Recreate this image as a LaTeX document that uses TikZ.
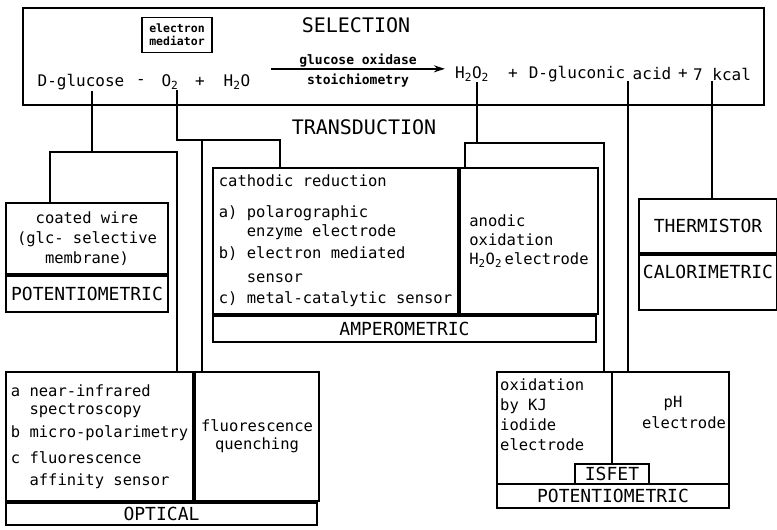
\documentclass[tikz,border=0pt]{standalone}
\usepackage{fontspec}
\newfontfamily\stencil{DejaVu Sans Mono}
\usetikzlibrary{arrows.meta}

\begin{document}
\begin{tikzpicture}[x=1pt,y=-1pt,
    cell/.style={draw, line width=2pt, inner sep=2pt, anchor=north west, align=center,
      font=\stencil\fontsize{15.5}{20}\selectfont},
    caps/.style={font=\stencil\fontsize{18}{20}\selectfont},
    title/.style={inner sep=1pt, font=\stencil\fontsize{20}{22}\selectfont},
    word/.style={inner sep=1pt, font=\stencil\fontsize{16}{18}\selectfont},
    txt/.style={inner sep=1pt, align=left, font=\stencil\fontsize{15.5}{20}\selectfont},
    small/.style={inner sep=1pt, font=\stencil\bfseries\fontsize{13}{15}\selectfont},
    link/.style={line width=1.6pt}]
  \useasboundingbox (0,0) rectangle (777,530);

  % selection
  \node[draw, line width=2.2pt, anchor=north west, inner sep=0,
    minimum width=741pt, minimum height=97pt] (sel) at (22,7) {};
  \node[title] (selt) at (356,25) {SELECTION};
  \node[draw, line width=1.2pt, inner sep=2pt, minimum width=70pt, minimum height=35pt,
    align=center, font=\stencil\bfseries\fontsize{11.5}{13}\selectfont] (med) at (177,35) {electron\\mediator};
  \node[word] (glc) at (81,82) {D-glucose};
  \node[word] (dash) at (141,82) {-};
  \node[word] (oxy) at (170,82) {O\textsubscript{2}};
  \node[word] (plusa) at (200,82) {+};
  \node[word] (water) at (237,82) {H\textsubscript{2}O};
  \node[small] (ox) at (358,61) {glucose oxidase};
  \node[small] (st) at (358,81) {stoichiometry};
  \node[word] (hper) at (472,74) {H\textsubscript{2}O\textsubscript{2}};
  \node[word] (plusb) at (513,74) {+};
  \node[word] (gluc) at (577,74) {D-gluconic};
  \node[word] (acid) at (652,74) {acid};
  \node[word] (plusc) at (683,74) {+};
  \node[word] (kcal) at (722,74) {7 kcal};
  \draw[link, -{Stealth[length=11pt,width=7pt]}] ([xshift=20pt]ox.south -| water.east) -- ([xshift=-9pt]ox.south -| hper.west);

  % transduction
  \node[title] (trans) at (364,127) {TRANSDUCTION};

  \node[cell, minimum width=162pt, minimum height=71pt] (wire) at (5,202)
    {coated wire\\(glc- selective\\membrane)};
  \node[cell, caps, minimum width=162pt, minimum height=36pt] (wirepot) at (wire.south west) {POTENTIOMETRIC};

  \node[cell, align=left, minimum width=245pt, minimum height=146pt, font=\stencil\fontsize{15.5}{19}\selectfont] (ampL) at (212,167)
    {cathodic reduction\\[12pt]a) polarographic\\\phantom{a)~}enzyme electrode\\[3pt]b) electron mediated\\[5pt]\phantom{b)~}sensor\\[2pt]c) metal-catalytic sensor};
  \node[cell, align=left, minimum width=138pt, minimum height=146pt, font=\stencil\fontsize{15.5}{19}\selectfont] (ampR) at (ampL.north east)
    {anodic\\oxidation\\H\textsubscript{2}O\textsubscript{2}\,electrode};
  \node[cell, caps, minimum width=383pt, minimum height=26pt] (ampB) at (ampL.south west) {AMPEROMETRIC};

  \node[cell, align=left, minimum width=187pt, minimum height=129pt, font=\stencil\fontsize{15.5}{18}\selectfont] (optL) at (5,371)
    {a near-infrared\\\phantom{a~}spectroscopy\\[5pt]b micro-polarimetry\\[8pt]c fluorescence\\[4pt]\phantom{c~}affinity sensor};
  \node[cell, minimum width=124pt, minimum height=129pt, font=\stencil\fontsize{15.5}{18}\selectfont] (optR) at (optL.north east)
    {fluorescence\\quenching};
  \node[cell, caps, minimum width=311pt, minimum height=22pt] (optB) at (optL.south west) {OPTICAL};

  \node[cell, caps, minimum width=138pt, minimum height=54pt] (thermT) at (638,198) {THERMISTOR};
  \node[cell, caps, minimum width=138pt, minimum height=55pt, text height=13pt, text depth=22pt] (thermB) at (thermT.south west) {CALORIMETRIC};

  \node[draw, line width=2pt, anchor=north west, inner sep=0,
    minimum width=232pt, minimum height=136pt] (kj) at (496,371) {};
  \node[cell, caps, minimum width=232pt, minimum height=24pt] (kjpot) at (496,483) {POTENTIOMETRIC};
  \node[cell, caps, minimum width=74pt, minimum height=20pt] (isfet) at (574,463) {ISFET};
  \draw[line width=1.1pt] (isfet.north |- kj.north) -- (isfet.north);
  \node[txt, anchor=west] (kjtxt) at (499,415) {oxidation\\by KJ\\iodide\\electrode};
  \node[txt] (ph) at (673,403) {pH};
  \node[txt] (phel) at (684,423) {electrode};

  % connectors
  \coordinate (jg) at (92,152);
  \coordinate (jgl) at (50,152);
  \coordinate (jgr) at (177,152);
  \coordinate (jo) at (177,140);
  \coordinate (jom) at (202,140);
  \coordinate (jor) at (280,140);
  \coordinate (jh) at (477,143);
  \coordinate (jhl) at (465,143);
  \coordinate (jhr) at (604,143);
  \coordinate (ja) at (628,120);
  \coordinate (jk) at (712,120);
  \draw[link] (jg |- glc.south) -- (jg);
  \draw[link] (jgl |- wire.north) -- (jgl) -- (jgr) -- (jgr |- optL.north);
  \draw[link] (jo |- oxy.south) -- (jo) -- (jor) -- (jor |- ampL.north);
  \draw[link] (jom) -- (jom |- optL.north);
  \draw[link] (jh |- hper.south) -- (jh);
  \draw[link] (jhl |- ampR.north) -- (jhl) -- (jhr) -- (jhr |- kj.north);
  \draw[link] (ja |- acid.south) -- (ja |- kj.north);
  \draw[link] (jk |- kcal.south) -- (jk |- thermT.north);
\end{tikzpicture}
\end{document}
